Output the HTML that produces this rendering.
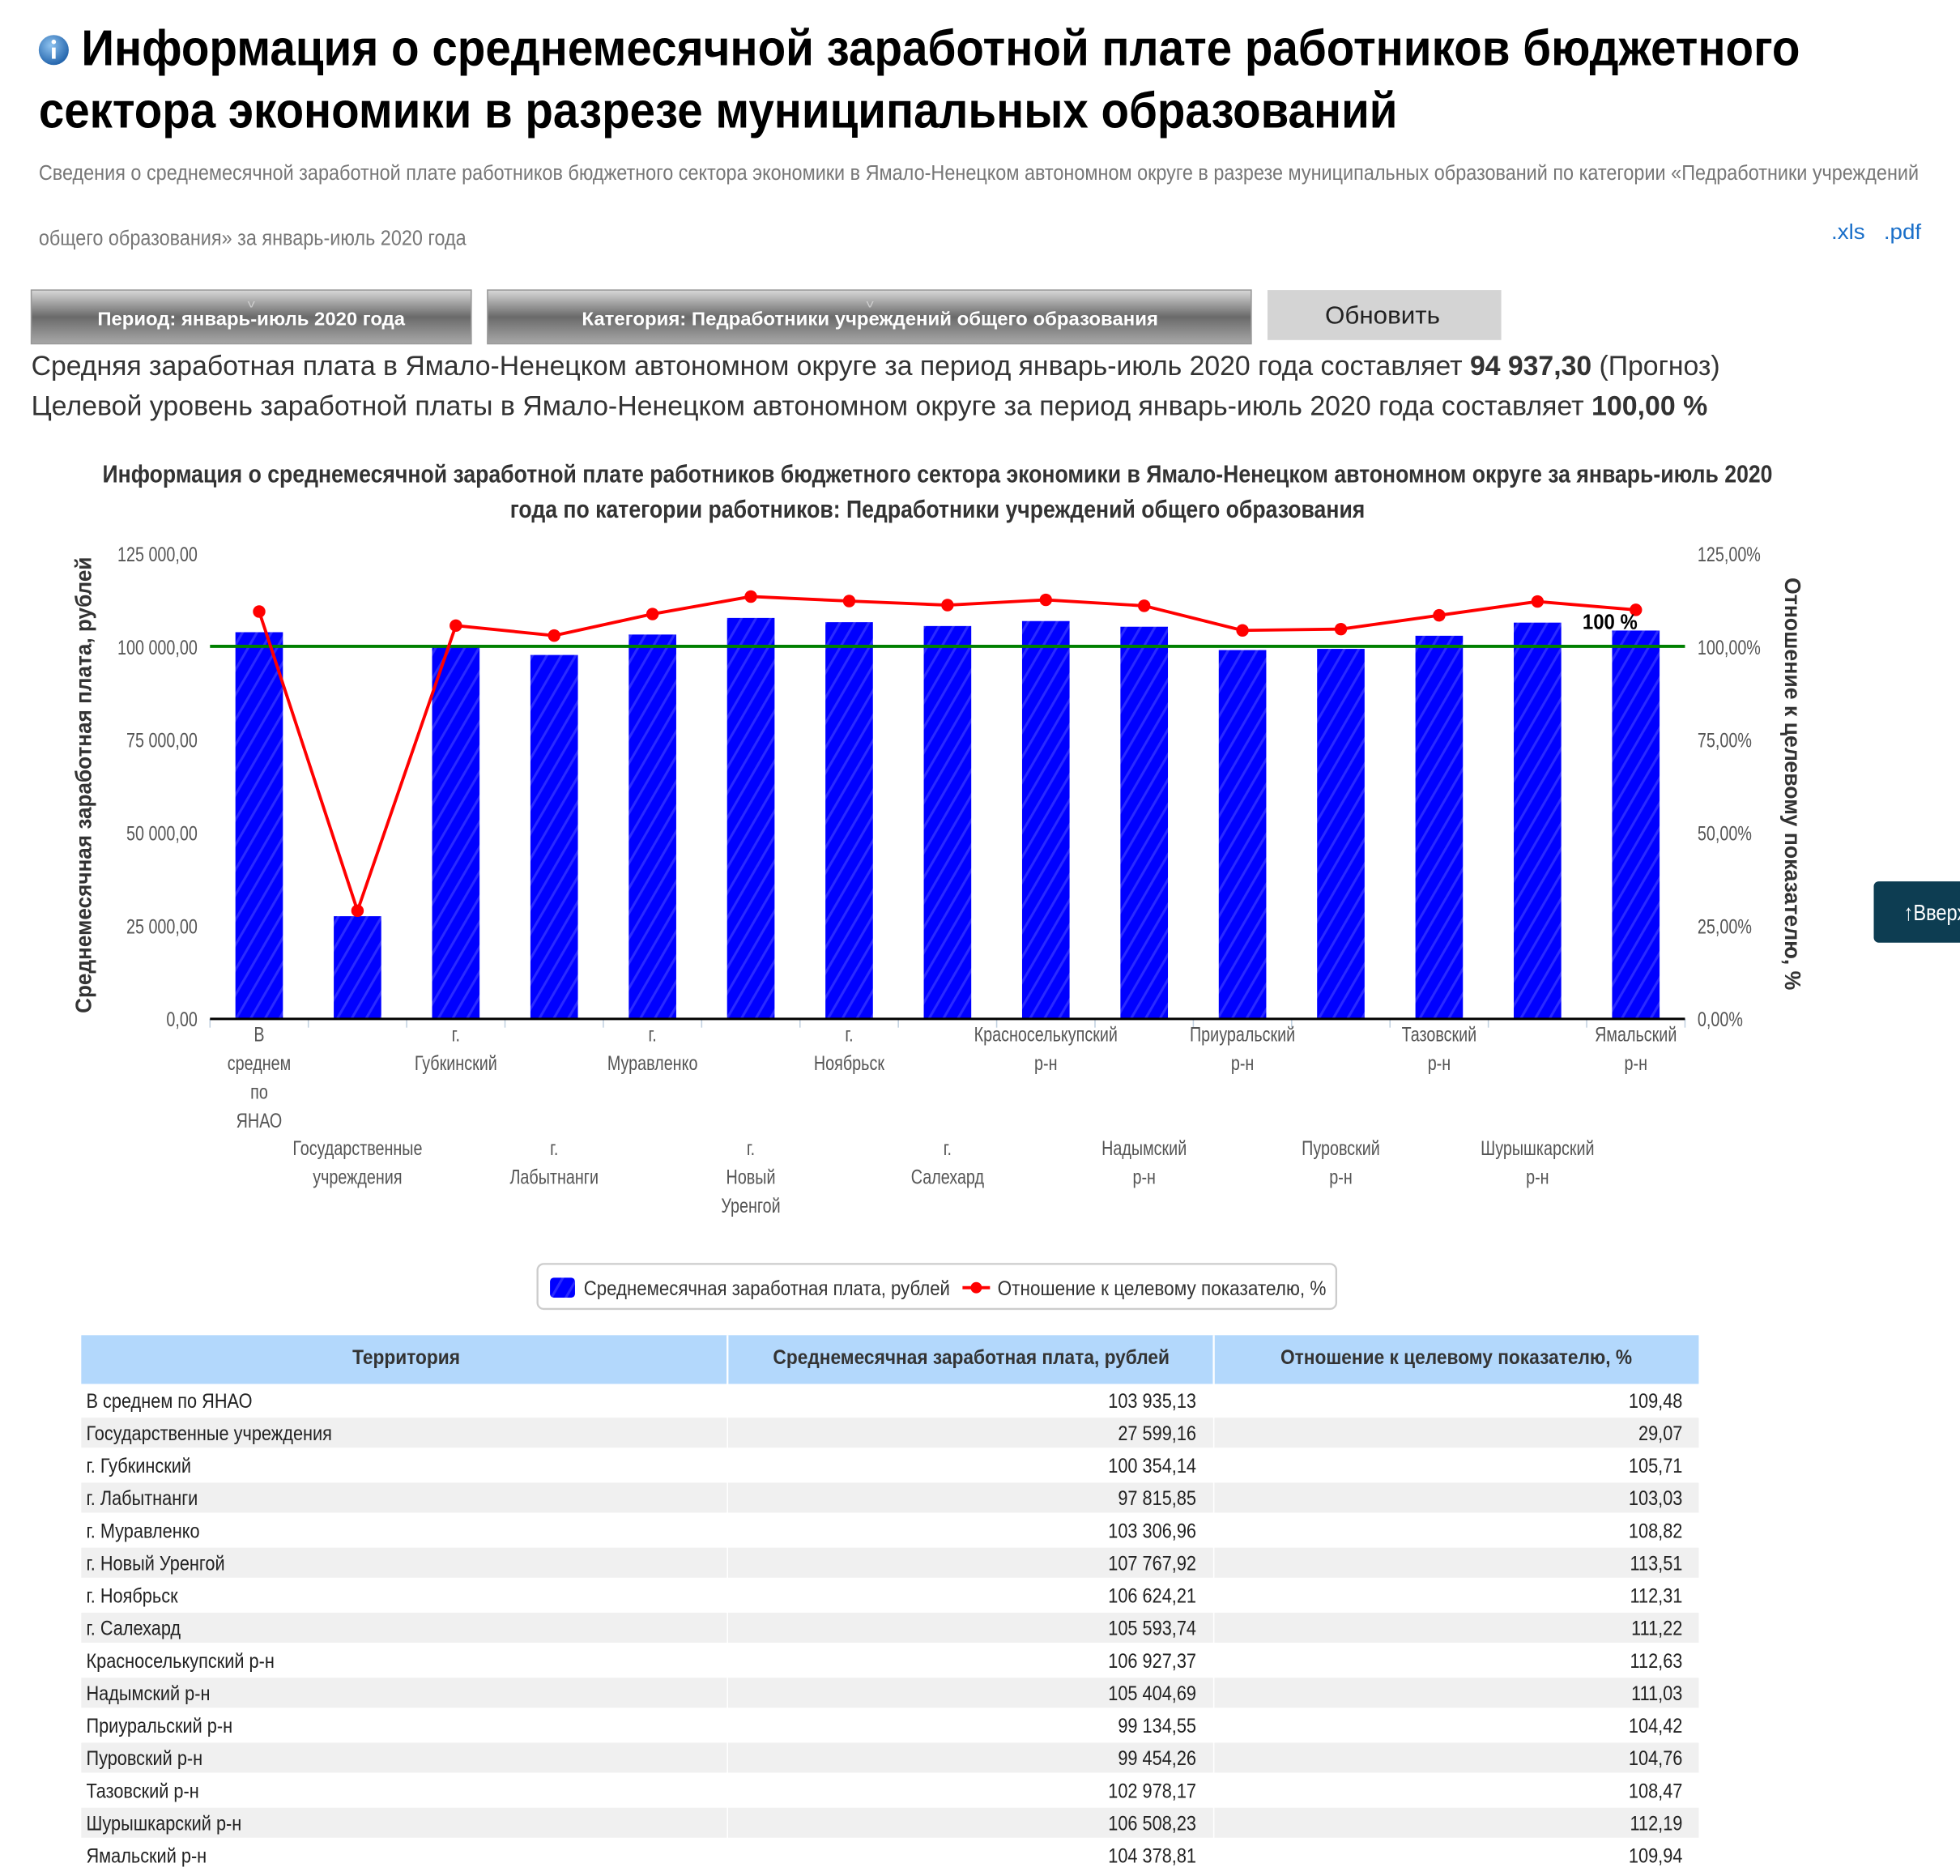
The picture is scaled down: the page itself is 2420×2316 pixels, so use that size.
<!DOCTYPE html>
<html><head><meta charset="utf-8">
<style>
html,body{margin:0;padding:0;background:#fff;}
svg{display:block;}
text{font-family:"Liberation Sans","DejaVu Sans",sans-serif;}
</style></head>
<body>
<svg id="s" xmlns="http://www.w3.org/2000/svg" width="2420" height="2316" viewBox="0 0 1568 1500.6">
<defs>
<linearGradient id="btn" x1="0" y1="0" x2="0" y2="1">
<stop offset="0" stop-color="#d8d8d8"/><stop offset="0.5" stop-color="#6a6a6a"/><stop offset="1" stop-color="#a8a8a8"/>
</linearGradient>
<pattern id="hat" width="10" height="10" patternUnits="userSpaceOnUse" patternTransform="rotate(30)">
<rect width="10" height="10" fill="#0000ff"/><rect width="2" height="10" fill="#2a2aff"/>
</pattern>
<radialGradient id="ic" cx="0.4" cy="0.35" r="0.7"><stop offset="0" stop-color="#8ec3f0"/><stop offset="1" stop-color="#1d5fa8"/></radialGradient>
</defs>
<rect width="1568" height="1501" fill="#fff"/>
<circle cx="43" cy="40" r="12" fill="url(#ic)"/>
<rect x="41.5" y="38" width="3" height="9" fill="#fff"/><circle cx="43" cy="33.5" r="1.8" fill="#fff"/>
<rect x="25" y="232" width="352" height="43" fill="url(#btn)" stroke="#999" stroke-width="1"/>
<rect x="390" y="232" width="611" height="43" fill="url(#btn)" stroke="#999" stroke-width="1"/>
<rect x="1014" y="232" width="187" height="40" fill="#d4d4d4"/>
<rect x="1499" y="705" width="80" height="49" rx="4" fill="#0d3d52"/>
<g id="g"></g>
</svg>
<script>
var NS="http://www.w3.org/2000/svg",g=document.getElementById('g');
function E(t,a,p){var e=document.createElementNS(NS,t);for(var k in a)e.setAttribute(k,a[k]);(p||g).appendChild(e);return e;}
function T(x,y,s,o){o=o||{};var e=E('text',{x:x,y:y,'font-size':o.sz||16,fill:o.f||'#333','font-weight':o.b?'bold':'normal','text-anchor':o.a||'start'});
 if(o.tr)e.setAttribute('transform',o.tr);
 if(Array.isArray(s)){s.forEach(function(p){var t=E('tspan',{},e);t.textContent=p[0];if(p[1])t.setAttribute('font-weight','bold');});}else e.textContent=s;
 var L;if(o.w)L=o.w;else{L=e.getComputedTextLength()*(o.c||0.8);}
 e.setAttribute('textLength',L);e.setAttribute('lengthAdjust','spacingAndGlyphs');return e;}
T(65,52,"Информация о среднемесячной заработной плате работников бюджетного",{sz:40,b:1,f:'#000',w:1375});
T(31,102,"сектора экономики в разрезе муниципальных образований",{sz:40,b:1,f:'#000',w:1087});
T(31,144,"Сведения о среднемесячной заработной плате работников бюджетного сектора экономики в Ямало-Ненецком автономном округе в разрезе муниципальных образований по категории «Педработники учреждений",{sz:17,f:'#777',w:1504});
T(31,196,"общего образования» за январь-июль 2020 года",{sz:17,f:'#777',w:342});
T(1465,191,".xls",{sz:17,f:'#1a6fc9',w:27});T(1507,191,".pdf",{sz:17,f:'#1a6fc9',w:30});
T(201,260,"Период: январь-июль 2020 года",{sz:15,b:1,f:'#fff',a:'middle',w:246});
T(696,260,"Категория: Педработники учреждений общего образования",{sz:15,b:1,f:'#fff',a:'middle',w:461});
T(201,246,"v",{sz:9,f:'#ccc',a:'middle',w:6});T(696,246,"v",{sz:9,f:'#ccc',a:'middle',w:6});
T(1106,259,"Обновить",{sz:20,f:'#222',a:'middle',w:92});
T(25,300,[["Средняя заработная плата в Ямало-Ненецком автономном округе за период январь-июль 2020 года составляет "],["94 937,30",1],[" (Прогноз)"]],{sz:22,w:1351});
T(25,332,[["Целевой уровень заработной платы в Ямало-Ненецком автономном округе за период январь-июль 2020 года составляет "],["100,00 %",1]],{sz:22,w:1341});
T(750,386,"Информация о среднемесячной заработной плате работников бюджетного сектора экономики в Ямало-Ненецком автономном округе за январь-июль 2020",{sz:20,b:1,a:'middle',w:1336});
T(750,414,"года по категории работников: Педработники учреждений общего образования",{sz:20,b:1,a:'middle',w:684});
T(1523,736,"↑Вверх",{sz:18,f:'#fff',c:0.85});
var names=[["В","среднем","по","ЯНАО"],["Государственные","учреждения"],["г.","Губкинский"],["г.","Лабытнанги"],["г.","Муравленко"],["г.","Новый","Уренгой"],["г.","Ноябрьск"],["г.","Салехард"],["Красноселькупский","р-н"],["Надымский","р-н"],["Приуральский","р-н"],["Пуровский","р-н"],["Тазовский","р-н"],["Шурышкарский","р-н"],["Ямальский","р-н"]];
var full=["В среднем по ЯНАО","Государственные учреждения","г. Губкинский","г. Лабытнанги","г. Муравленко","г. Новый Уренгой","г. Ноябрьск","г. Салехард","Красноселькупский р-н","Надымский р-н","Приуральский р-н","Пуровский р-н","Тазовский р-н","Шурышкарский р-н","Ямальский р-н"];
var sal=[103935.13,27599.16,100354.14,97815.85,103306.96,107767.92,106624.21,105593.74,106927.37,105404.69,99134.55,99454.26,102978.17,106508.23,104378.81];
var pct=[109.48,29.07,105.71,103.03,108.82,113.51,112.31,111.22,112.63,111.03,104.42,104.76,108.47,112.19,109.94];
var salS=["103 935,13","27 599,16","100 354,14","97 815,85","103 306,96","107 767,92","106 624,21","105 593,74","106 927,37","105 404,69","99 134,55","99 454,26","102 978,17","106 508,23","104 378,81"];
var pctS=["109,48","29,07","105,71","103,03","108,82","113,51","112,31","111,22","112,63","111,03","104,42","104,76","108,47","112,19","109,94"];
var X0=168,X1=1348,Y0=815,Yt=443,H=Y0-Yt,cw=(X1-X0)/15;
var yl=["0,00","25 000,00","50 000,00","75 000,00","100 000,00","125 000,00"],yr=["0,00%","25,00%","50,00%","75,00%","100,00%","125,00%"];
for(var i=0;i<6;i++){var y=Y0-H*i/5;T(158,y+6,yl[i],{sz:16,f:'#555',a:'end'});T(1358,y+6,yr[i],{sz:16,f:'#555'});}
for(var i=0;i<15;i++){var cx=X0+cw*(i+.5),h=sal[i]/125000*H;E('rect',{x:cx-19,y:Y0-h,width:38,height:h,fill:'url(#hat)'});}
for(var i=0;i<=15;i++){var x=X0+cw*i;E('line',{x1:x,y1:Y0,x2:x,y2:Y0+7,stroke:'#c0d0e0','stroke-width':1});}
E('line',{x1:X0,y1:Y0,x2:X1,y2:Y0,stroke:'#000','stroke-width':2});
E('line',{x1:X0,y1:517,x2:X1,y2:517,stroke:'#008000','stroke-width':2.5});
var pts=[];for(var i=0;i<15;i++){pts.push((X0+cw*(i+.5))+','+(Y0-pct[i]/125*H));}
E('polyline',{points:pts.join(' '),fill:'none',stroke:'#ff0000','stroke-width':2.5});
for(var i=0;i<15;i++){E('circle',{cx:X0+cw*(i+.5),cy:Y0-pct[i]/125*H,r:5,fill:'#ff0000'});}
T(1266,503,"100 %",{sz:17,b:1,f:'#000',w:44});
for(var i=0;i<15;i++){var cx=X0+cw*(i+.5),by=(i%2==0)?833:924;names[i].forEach(function(w,j){T(cx,by+j*23,w,{sz:16,f:'#555',a:'middle'});});}
T(0,0,"Среднемесячная заработная плата, рублей",{sz:18,b:1,tr:'translate(73,628) rotate(-90)',a:'middle',w:365});
T(0,0,"Отношение к целевому показателю, %",{sz:18,b:1,tr:'translate(1428,627) rotate(90)',a:'middle',w:330});
E('rect',{x:430,y:1011,width:639,height:36,rx:5,fill:'#fff',stroke:'#ccc','stroke-width':1.5});
E('rect',{x:440,y:1022,width:20,height:16,rx:3,fill:'url(#hat)'});
T(467,1036,"Среднемесячная заработная плата, рублей",{sz:16,f:'#333',w:293});
E('line',{x1:770,y1:1030,x2:792,y2:1030,stroke:'#f00','stroke-width':2.5});E('circle',{cx:781,cy:1030,r:4.5,fill:'#f00'});
T(798,1036,"Отношение к целевому показателю, %",{sz:16,f:'#333',w:263});
E('rect',{x:65,y:1068,width:1294,height:39,fill:'#b3d8fc'});
E('line',{x1:582,y1:1068,x2:582,y2:1107,stroke:'#fff','stroke-width':1.5});E('line',{x1:971,y1:1068,x2:971,y2:1107,stroke:'#fff','stroke-width':1.5});
T(325,1091,"Территория",{sz:16,b:1,a:'middle',c:0.92});
T(777,1091,"Среднемесячная заработная плата, рублей",{sz:16,b:1,a:'middle',c:0.92});
T(1165,1091,"Отношение к целевому показателю, %",{sz:16,b:1,a:'middle',c:0.92});
for(var i=0;i<15;i++){var ty=1107+i*26;if(i%2==1){E('rect',{x:65,y:ty+1,width:1294,height:24,fill:'#f0f0f0'});}
 E('line',{x1:582,y1:ty,x2:582,y2:ty+26,stroke:'#fff'});E('line',{x1:971,y1:ty,x2:971,y2:ty+26,stroke:'#fff'});
 T(69,ty+19,full[i],{sz:16,f:'#222',c:0.88});T(957,ty+19,salS[i],{sz:16,f:'#222',a:'end',c:0.88});T(1346,ty+19,pctS[i],{sz:16,f:'#222',a:'end',c:0.88});}
</script>
</body></html>
